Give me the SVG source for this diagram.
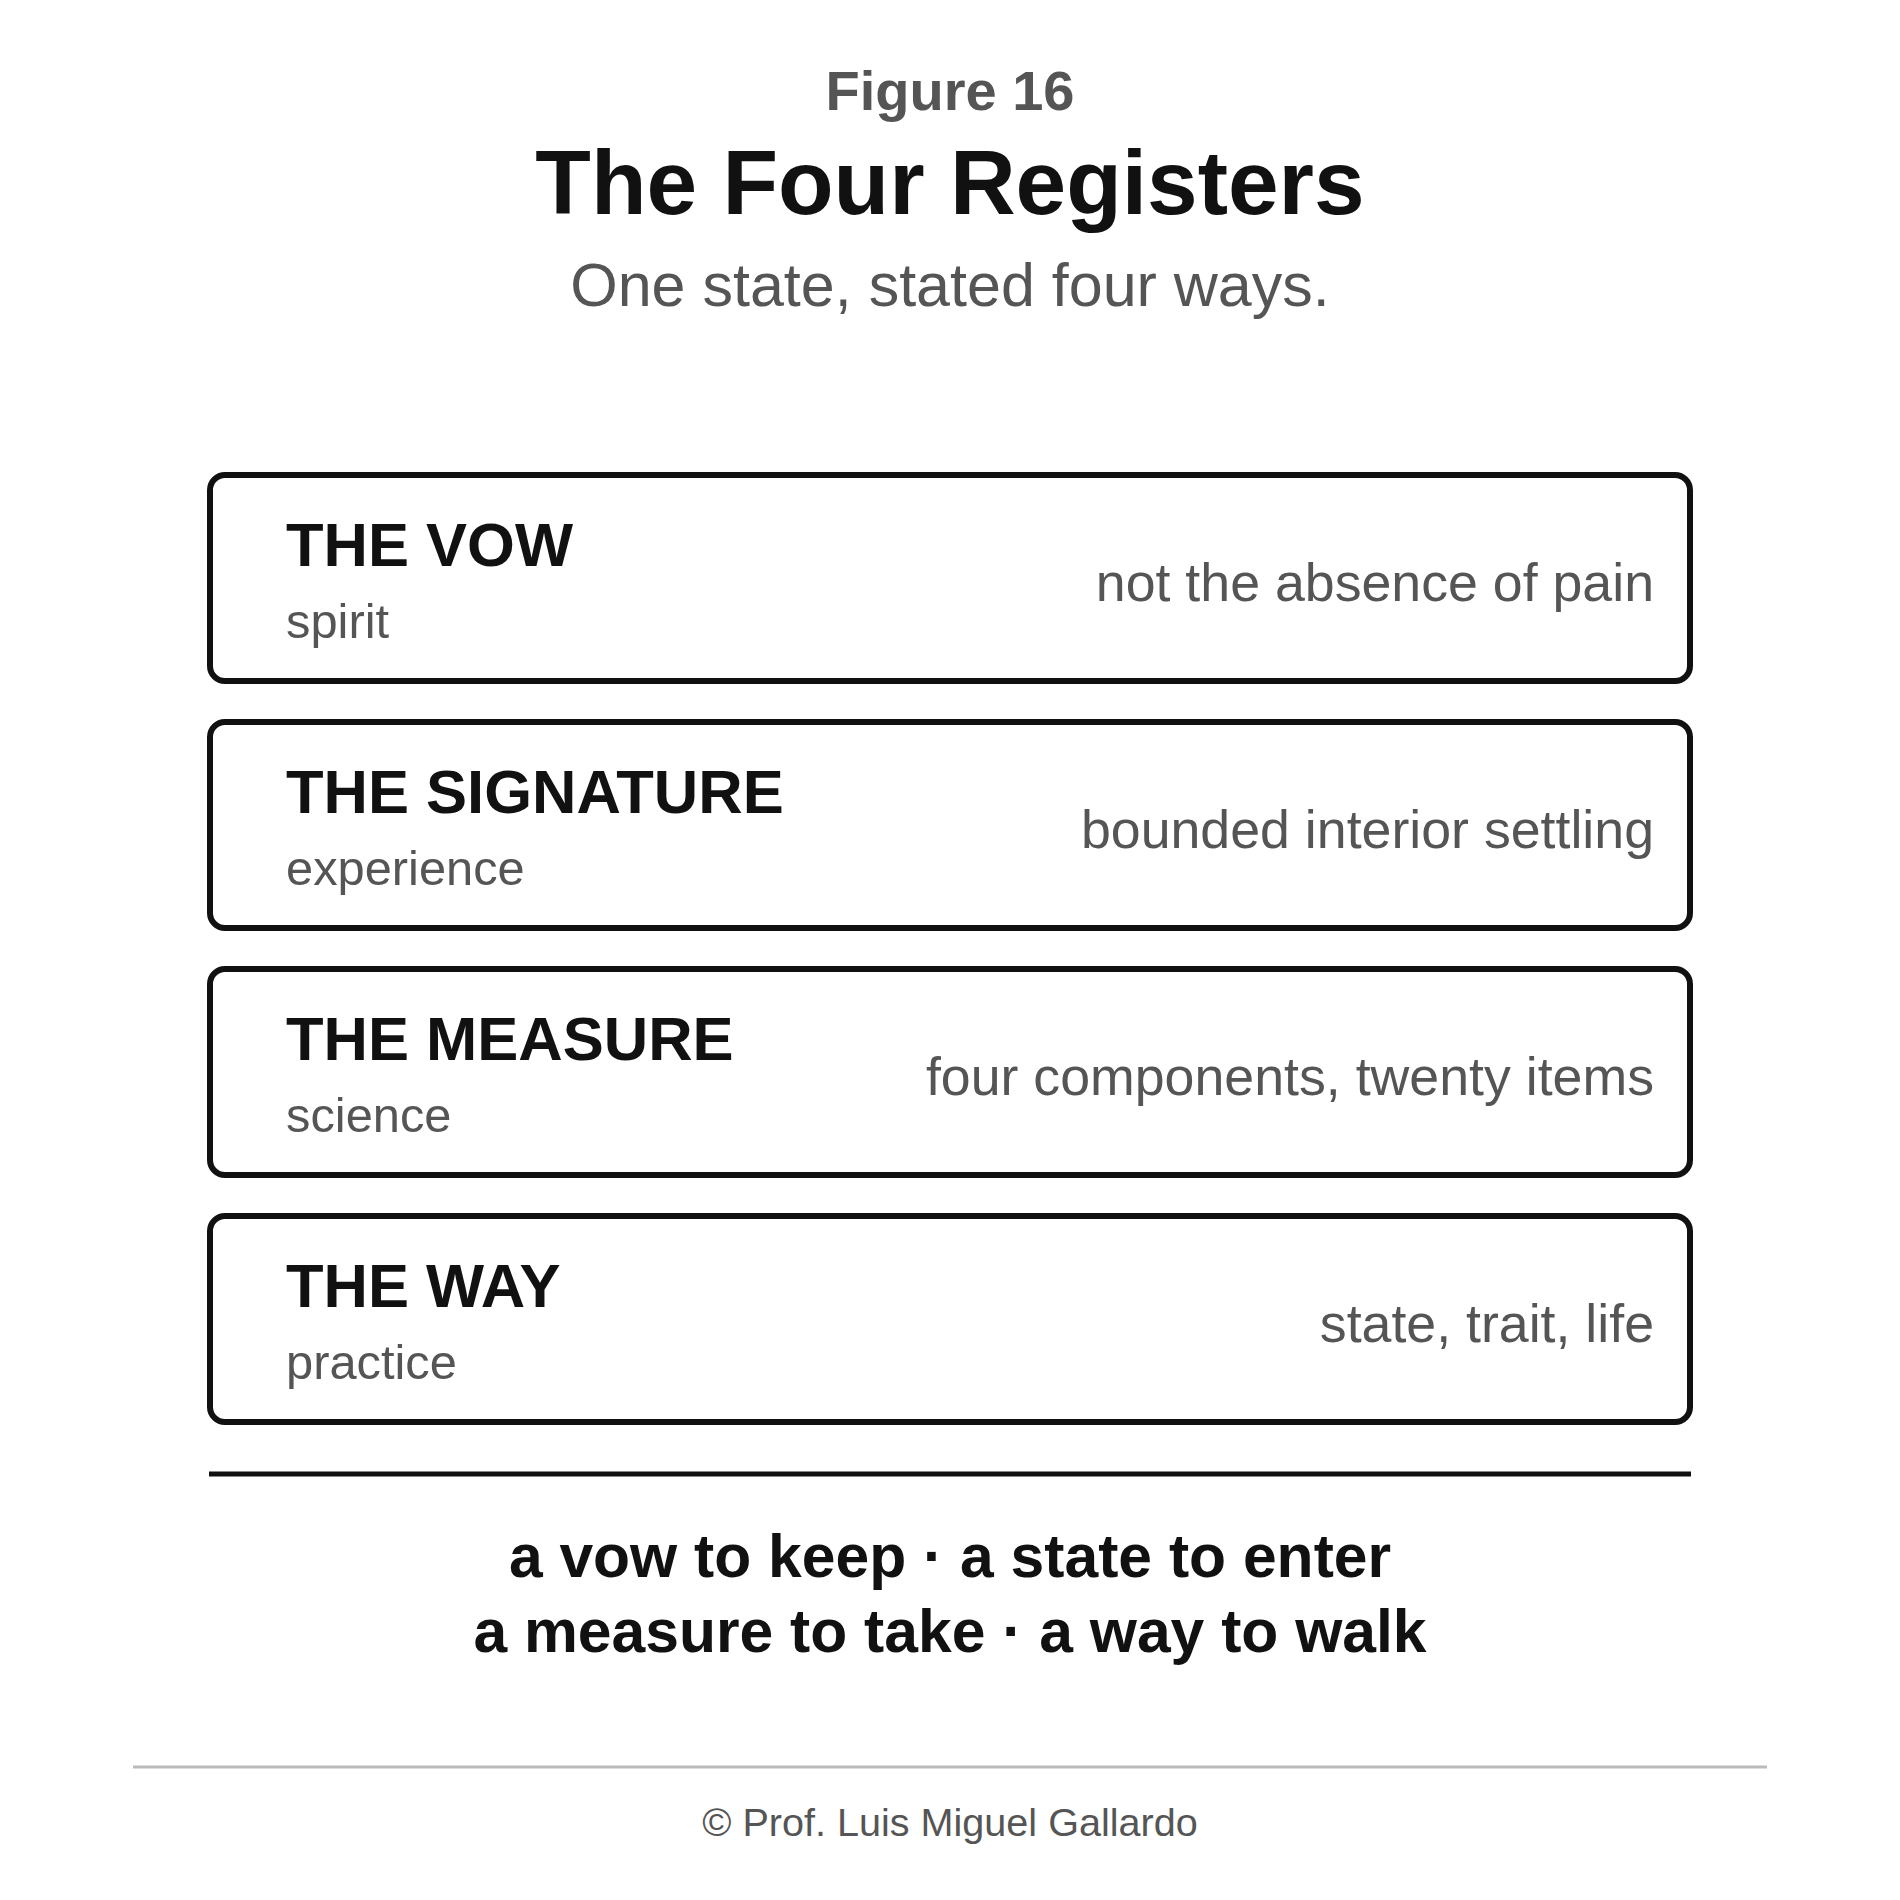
<svg xmlns="http://www.w3.org/2000/svg" width="1900" height="1900" viewBox="0 0 1900 1900">
<style>
.bg{fill:#ffffff}
.fig{font-family:"Liberation Sans",Arial,sans-serif;font-weight:bold;font-size:56px;fill:#555555;text-anchor:middle}
.title{font-family:"Liberation Sans",Arial,sans-serif;font-weight:bold;font-size:91px;fill:#111111;text-anchor:middle}
.sub{font-family:"Liberation Sans",Arial,sans-serif;font-size:61px;fill:#555555;text-anchor:middle}
.box{fill:#ffffff;stroke:#111111;stroke-width:6}
.name{font-family:"Liberation Sans",Arial,sans-serif;font-weight:bold;font-size:61.5px;fill:#111111}
.reg{font-family:"Liberation Sans",Arial,sans-serif;font-size:48.8px;fill:#555555}
.desc{font-family:"Liberation Sans",Arial,sans-serif;font-size:53.7px;fill:#555555;text-anchor:end}
.motto{font-family:"Liberation Sans",Arial,sans-serif;font-weight:bold;font-size:60.6px;fill:#111111;text-anchor:middle}
.copy{font-family:"Liberation Sans",Arial,sans-serif;font-size:39.6px;fill:#555555;text-anchor:middle}
</style>
<rect class="bg" x="0" y="0" width="1900" height="1900"/>
<g id="header">
<text class="fig" x="950" y="110">Figure 16</text>
<text class="title" x="950" y="214">The Four Registers</text>
<text class="sub" x="950" y="306">One state, stated four ways.</text>
</g>
<g id="node-vow">
<rect class="box" x="210" y="475" width="1480" height="206" rx="15"/>
<text class="name" x="286" y="566">THE VOW</text>
<text class="reg" x="286" y="638">spirit</text>
<text class="desc" x="1654" y="601">not the absence of pain</text>
</g>
<g id="node-signature">
<rect class="box" x="210" y="722" width="1480" height="206" rx="15"/>
<text class="name" x="286" y="813">THE SIGNATURE</text>
<text class="reg" x="286" y="885">experience</text>
<text class="desc" x="1654" y="848">bounded interior settling</text>
</g>
<g id="node-measure">
<rect class="box" x="210" y="969" width="1480" height="206" rx="15"/>
<text class="name" x="286" y="1060">THE MEASURE</text>
<text class="reg" x="286" y="1132">science</text>
<text class="desc" x="1654" y="1095">four components, twenty items</text>
</g>
<g id="node-way">
<rect class="box" x="210" y="1216" width="1480" height="206" rx="15"/>
<text class="name" x="286" y="1307">THE WAY</text>
<text class="reg" x="286" y="1379">practice</text>
<text class="desc" x="1654" y="1342">state, trait, life</text>
</g>
<g id="connectors">
<line x1="209" y1="1474" x2="1691" y2="1474" stroke="#111111" stroke-width="5"/>
</g>
<g id="footer">
<text class="motto" x="950" y="1577">a vow to keep · a state to enter</text>
<text class="motto" x="950" y="1652">a measure to take · a way to walk</text>
<line x1="133" y1="1767" x2="1767" y2="1767" stroke="#bbbbbb" stroke-width="3"/>
<text class="copy" x="950" y="1836">© Prof. Luis Miguel Gallardo</text>
</g>
</svg>
